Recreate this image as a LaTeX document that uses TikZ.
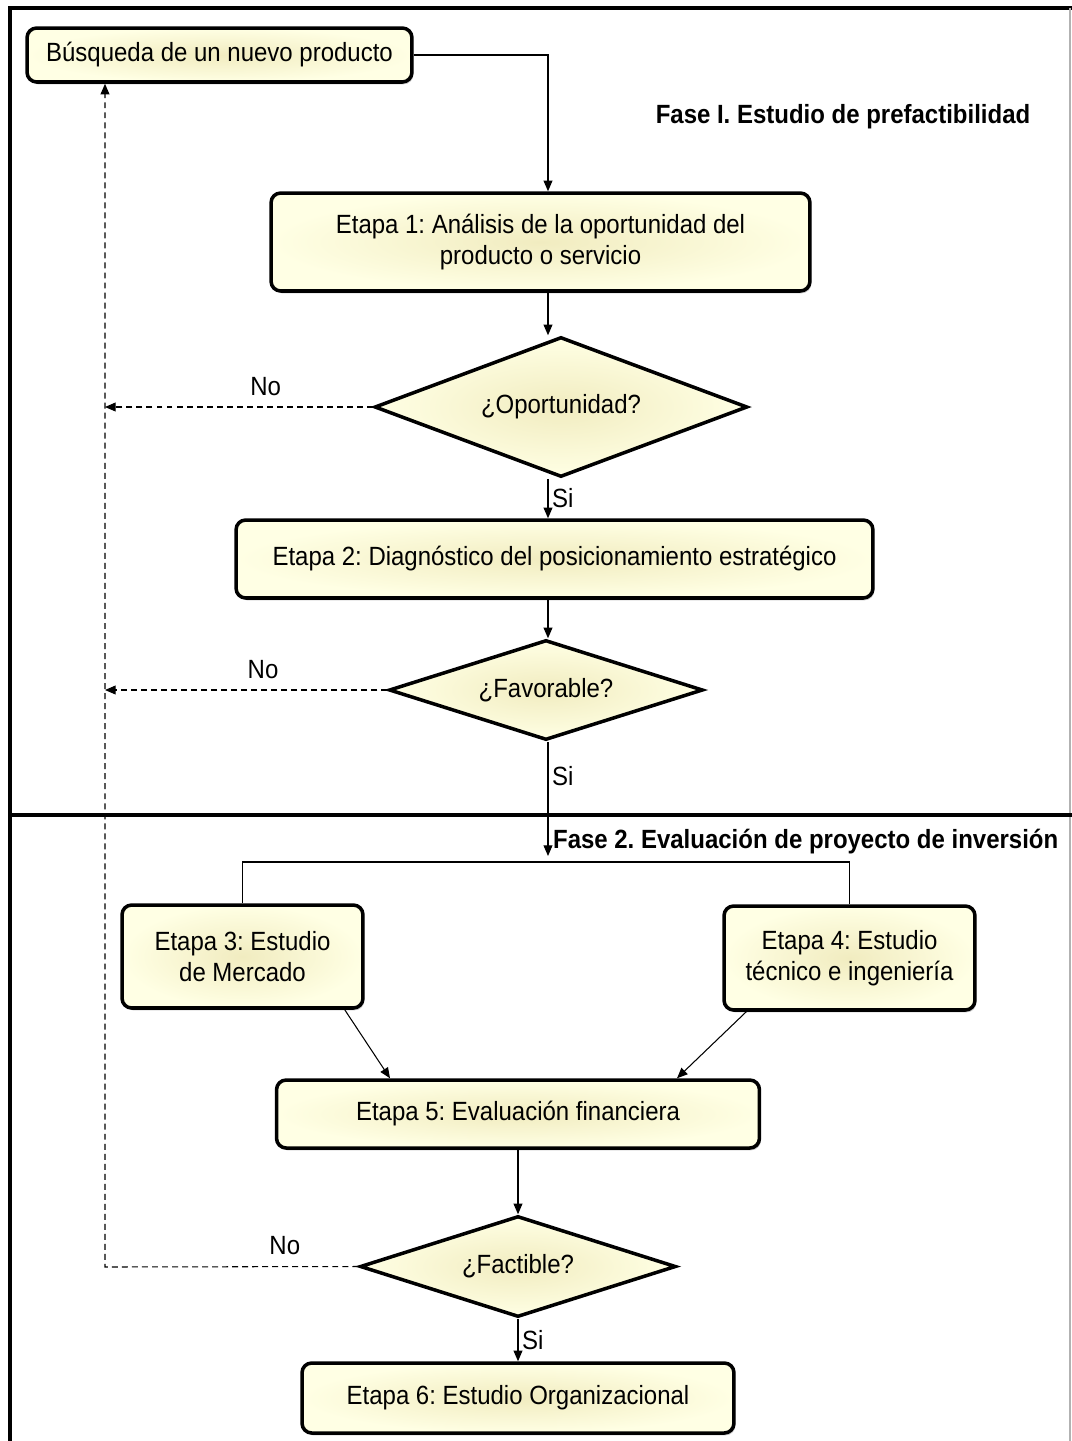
\documentclass[tikz,border=0pt]{standalone}
\usepackage{fontspec}
\setmainfont[FakeStretch=0.91]{Liberation Sans}
\usetikzlibrary{shapes.geometric,arrows.meta,shadows}

\definecolor{etapaout}{HTML}{FFFFE4}
\definecolor{etapain}{HTML}{F1ECC0}

\begin{document}
\frenchspacing
\begin{tikzpicture}[x=0.02cm, y=-0.02cm,
                    font=\fontsize{15}{18}\selectfont,
                    etapa node/.style={rectangle, rounded corners=5.5pt, draw, line width=2pt,
                      inner color=etapain, outer color=etapaout, align=center,
                      drop shadow={shadow xshift=0.8pt, shadow yshift=-1.3pt, fill=black!45, opacity=0.5}},
                    decision node/.style={diamond, draw, line width=2pt, inner sep=0pt, aspect=3,
                      inner color=etapain, outer color=etapaout},
                    flow/.style={line width=0.6pt, -{Triangle[length=6pt,width=5pt]}},
                    flow back/.style={flow, dash pattern=on 3.4pt off 2.3pt},
                    frame/.style={line width=2pt}]

  \useasboundingbox (0,0) rectangle (1072,1441);

  % marco y fases
  \draw[frame] (10,1441) -- (10,8) -- (1072,8);
  \draw[black!30, line width=0.8pt] (1070,8) -- (1070,1441);
  \draw[frame] (10,815) -- (1072,815);
  \node[font=\fontsize{15}{18}\selectfont\bfseries] (fase1) at (843,117) {Fase I. Estudio de prefactibilidad};
  \node[font=\fontsize{15}{18}\selectfont\bfseries, anchor=west, inner sep=1pt] (fase2) at (551,842) {Fase 2. Evaluación de proyecto de inversión};

  % etapas
  \node[etapa node, minimum width=7.7cm, minimum height=1.08cm] (busq) at (219.5,55) {Búsqueda de un nuevo producto};
  \node[etapa node, minimum width=10.78cm, minimum height=1.96cm] (e1) at (540.5,242) {Etapa 1: Análisis de la oportunidad del\\producto o servicio};
  \node[decision node, aspect=2.66, minimum width=7.46cm, minimum height=2.8cm] (op) at (561,407) {¿Oportunidad?};
  \node[etapa node, minimum width=12.74cm, minimum height=1.56cm] (e2) at (554.5,559) {Etapa 2: Diagnóstico del posicionamiento estratégico};
  \node[decision node, aspect=3.14, minimum width=6.28cm, minimum height=2cm] (fav) at (546,690) {¿Favorable?};
  \node[etapa node, minimum width=4.82cm, minimum height=2.06cm] (e3) at (242.5,956.5) {Etapa 3: Estudio\\de Mercado};
  \node[etapa node, minimum width=5.02cm, minimum height=2.08cm] (e4) at (849.5,958) {Etapa 4: Estudio\\técnico e ingeniería};
  \node[etapa node, minimum width=9.66cm, minimum height=1.36cm] (e5) at (518,1114) {Etapa 5: Evaluación financiera};
  \node[decision node, aspect=3.13, minimum width=6.32cm, minimum height=2.02cm] (fac) at (518,1266.5) {¿Factible?};
  \node[etapa node, minimum width=8.64cm, minimum height=1.4cm] (e6) at (518,1398) {Etapa 6: Estudio Organizacional};

  \coordinate (trunk) at (548,0);
  \coordinate (split) at (548,856);
  \coordinate (bar) at (0,862);
  \coordinate (back) at (105,1267);

  % flujo principal
  \draw[flow] (busq.east) -| (e1.north -| trunk);
  \draw[flow] (e1.south -| trunk) -- (op.north -| trunk);
  \draw[flow] (op.south -| trunk) -- node[right, inner sep=2pt] {Si} (e2.north -| trunk);
  \draw[flow] (e2.south -| trunk) -- (fav.north -| trunk);
  \draw[flow] (fav.south -| trunk) -- node[right, pos=0.3, inner sep=2pt] {Si} (split);
  \draw[line width=0.6pt] (e3.north) -- (e3.north |- bar) -- (e4.north |- bar) -- (e4.north);
  \path[flow] (e3.south east) ++(-20,0) edge (e5.north -| 390,0);
  \path[flow] (e4.south west) ++(24,0) edge (e5.north -| 677,0);
  \draw[flow] (e5) -- (fac);
  \draw[flow] (fac) -- node[right, inner sep=2pt] {Si} (e6);

  % retorno
  \draw[flow back] (op.west) -- node[above, pos=0.4, yshift=3pt] {No} (op.west -| back);
  \draw[flow back] (fav.west) -- node[above, pos=0.44, yshift=3pt] {No} (fav.west -| back);
  \draw[flow back] (fac.west) -- node[above, pos=0.29, yshift=3pt] {No} (back) -- (back |- busq.south);

\end{tikzpicture}
\end{document}
